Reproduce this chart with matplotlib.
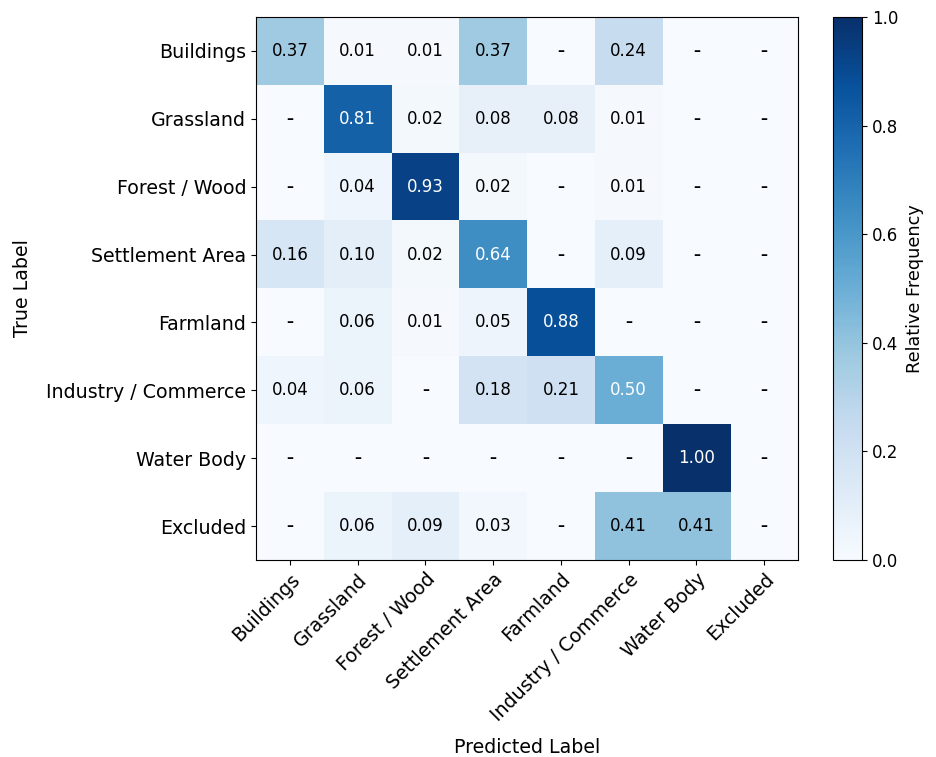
import numpy as np
import matplotlib.pyplot as plt

classes = ['Buildings', 'Grassland', 'Forest / Wood', 'Settlement Area',
           'Farmland', 'Industry / Commerce', 'Water Body', 'Excluded']

row_buildings = [0.37, 0.01, 0.01, 0.37, 0.00, 0.24, 0.00, 0.00]
row_grassland = [0.00, 0.81, 0.02, 0.08, 0.08, 0.01, 0.00, 0.00]
row_forest = [0.00, 0.04, 0.93, 0.02, 0.00, 0.01, 0.00, 0.00]
row_settlement = [0.16, 0.10, 0.02, 0.64, 0.00, 0.09, 0.00, 0.00]
row_farmland = [0.00, 0.06, 0.01, 0.05, 0.88, 0.00, 0.00, 0.00]
row_industry = [0.04, 0.06, 0.00, 0.18, 0.21, 0.50, 0.00, 0.00]
row_water = [0.00, 0.00, 0.00, 0.00, 0.00, 0.00, 1.00, 0.00]
row_excluded = [0.00, 0.06, 0.09, 0.03, 0.00, 0.41, 0.41, 0.00]

cm = np.array([row_buildings, row_grassland, row_forest, row_settlement,
               row_farmland, row_industry, row_water, row_excluded])

fig = plt.figure(figsize=(9.36, 7.57), dpi=100)
ax = fig.add_axes([0.2735, 0.2602, 0.5791, 0.7173])
cax = fig.add_axes([0.890, 0.2602, 0.031, 0.7173])

im = ax.imshow(cm, cmap='Blues', vmin=0, vmax=1, aspect='auto')
cb = fig.colorbar(im, cax=cax)
cb.set_label('Relative Frequency', fontsize=12.7, labelpad=6)
cb.ax.tick_params(labelsize=12)

n = len(classes)
ax.set_xticks(np.arange(n))
ax.set_yticks(np.arange(n))
ax.set_xticklabels(classes, rotation=45, ha='right', rotation_mode='anchor', fontsize=13.7)
ax.set_yticklabels(classes, fontsize=13.7)
ax.set_xlabel('Predicted Label', fontsize=13.7, labelpad=10)
ax.set_ylabel('True Label', fontsize=13.7, labelpad=10)

for i in range(n):
    for j in range(n):
        v = cm[i, j]
        col = 'white' if v > 0.45 else 'black'
        if v > 0:
            ax.text(j, i, '%.2f' % v, ha='center', va='center', color=col, fontsize=12)
        else:
            ax.text(j, i, '–', ha='center', va='center', color=col, fontsize=10,
                    fontweight='bold')

plt.savefig('out.png', dpi=100)
